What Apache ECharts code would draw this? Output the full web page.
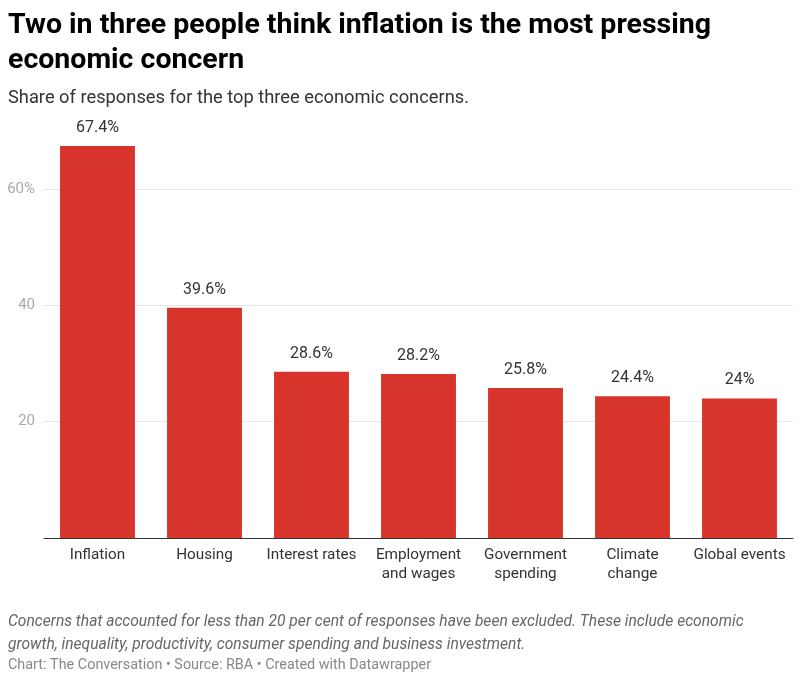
<!DOCTYPE html>
<html>
<head>
<meta charset="utf-8">
<script src="https://cdn.jsdelivr.net/npm/echarts@6/dist/echarts.min.js"></script>
<style>
  html, body { margin: 0; padding: 0; background: #fff; }
  #chart { width: 800px; height: 679px; }
</style>
</head>
<body>
<div id="chart"></div>
<script>
const categories = ['Inflation', 'Housing', 'Interest rates', 'Employment\nand wages', 'Government\nspending', 'Climate\nchange', 'Global events'];
const shares = [67.4, 39.6, 28.6, 28.2, 25.8, 24.4, 24];
const yTicks = [0, 20, 40, 60];

const chart = echarts.init(document.getElementById('chart'));

const option = {
  animation: false,
  textStyle: { fontFamily: 'Roboto' },
  title: [
    {
      text: 'Two in three people think inflation is the most pressing\neconomic concern',
      left: 8,
      top: 8,
      padding: 0,
      textStyle: { fontSize: 28.5, fontWeight: 'bold', color: '#000', lineHeight: 35, fontFamily: 'Roboto' },
    },
    {
      text: 'Share of responses for the top three economic concerns.',
      left: 8,
      top: 87,
      padding: 0,
      textStyle: { fontSize: 18.3, fontWeight: 'normal', color: '#333', lineHeight: 22, fontFamily: 'Roboto' },
    },
    {
      text: 'Concerns that accounted for less than 20 per cent of responses have been excluded. These include economic\ngrowth, inequality, productivity, consumer spending and business investment.',
      left: 8,
      top: 611,
      padding: 0,
      textStyle: { fontSize: 15.6, fontWeight: 'normal', fontStyle: 'italic', color: '#666', lineHeight: 23, fontFamily: 'Roboto' },
    },
    {
      text: 'Chart: The Conversation • Source: RBA • Created with Datawrapper',
      left: 8,
      top: 656,
      padding: 0,
      textStyle: { fontSize: 14.4, fontWeight: 'normal', color: '#888', lineHeight: 18, fontFamily: 'Roboto' },
    },
  ],
  grid: {
    left: 44,
    right: 7,
    top: 131,
    bottom: 141,
  },
  xAxis: {
    type: 'category',
    data: categories,
    axisLine: { lineStyle: { color: '#333', width: 1 } },
    axisTick: { show: false },
    axisLabel: {
      color: '#333',
      fontSize: 15.3,
      lineHeight: 19,
      margin: 8,
      interval: 0,
    },
  },
  yAxis: {
    type: 'value',
    min: 0,
    max: 70,
    interval: 20,
    axisLine: { show: false },
    axisTick: { show: false },
    splitLine: { showMaxLine: false, lineStyle: { color: '#e6e6e6', width: 1 } },
    axisLabel: {
      color: '#aaa',
      fontSize: 15,
      margin: 9,
      showMaxLabel: false,
      formatter: function (val) {
        if (val === 0 || yTicks.indexOf(val) < 0) return '';
        return val === 60 ? val + '%' : String(val);
      },
    },
  },
  series: [
    {
      type: 'bar',
      data: shares,
      barCategoryGap: '30%',
      itemStyle: { color: '#d7352b' },
      label: {
        show: true,
        position: 'top',
        distance: 10,
        color: '#333',
        fontSize: 16,
        formatter: function (p) { return p.value + '%'; },
      },
    },
  ],
};

chart.setOption(option);
</script>
</body>
</html>
